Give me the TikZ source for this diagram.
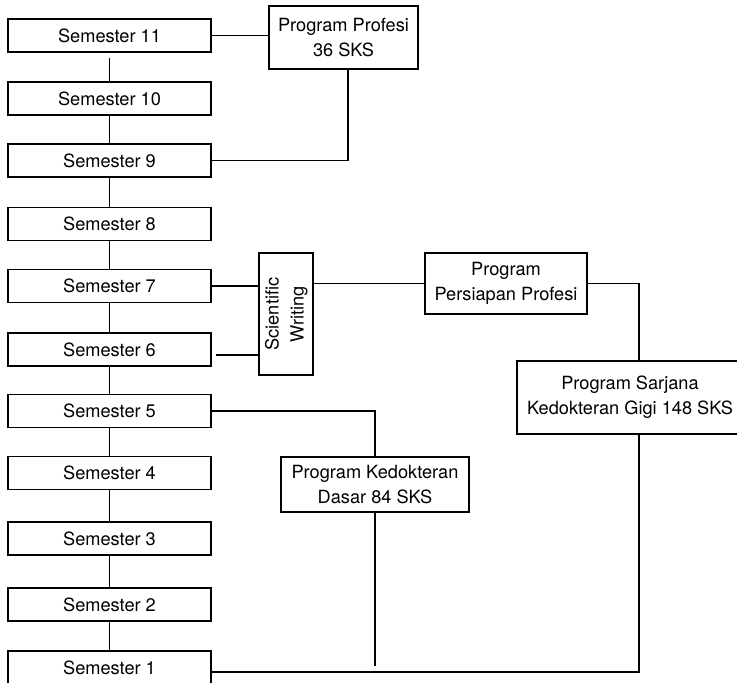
\documentclass[tikz,border=0pt]{standalone}
\usepackage{fontspec}
\usepackage{graphicx}
\setmainfont{TeX Gyre Heros}
\begin{document}
\begin{tikzpicture}[x=1pt,y=-1pt,
  box/.style={draw, line width=1.1pt, inner sep=0pt, align=center, font=\fontsize{18.2}{25}\selectfont},
  sem/.style={box, minimum width=203pt, minimum height=33pt},
  conn/.style={line width=1.1pt}]
\useasboundingbox (0,0) rectangle (737,683);
\foreach \n/\y in {11/35.5, 10/98.5, 9/160.5, 8/224, 7/286, 6/349.5, 5/411, 4/473, 3/538.5, 2/604.5, 1/667.5}
  \node[sem] (s\n) at (109.5,\y) {Semester \n};
% semester chain
\draw[conn, shorten <=5.5pt] (s11) -- (s10);
\draw[conn] (s10) -- (s9);
\draw[conn] (s9) -- (s8);
\draw[conn] (s8) -- (s7);
\draw[conn] (s7) -- (s6);
\draw[conn] (s6) -- (s5);
\draw[conn] (s5) -- (s4);
\draw[conn] (s4) -- (s3);
\draw[conn] (s3) -- (s2);
\draw[conn] (s2) -- (s1);
% program boxes
\node[box, minimum width=149pt, minimum height=63pt] (pp) at (343.5,37.5) {Program Profesi\\36 SKS};
\node[box, minimum width=54pt, minimum height=122pt] (sw) at (286,314)
  {\rotatebox{90}{\begin{tabular}{@{}c@{}}Scientific\\Writing\end{tabular}}};
\node[box, minimum width=162pt, minimum height=61pt] (ppp) at (506,283.5) {Program\\Persiapan Profesi};
\node[box, minimum width=226pt, minimum height=73pt] (sar) at (630,397.5) {Program Sarjana\\Kedokteran Gigi 148 SKS};
\node[box, minimum width=188pt, minimum height=55pt] (kd) at (375,484.5) {Program Kedokteran\\Dasar 84 SKS};
% connectors
\draw[conn] (s11.east) -- (s11.east -| pp.west);
\draw[conn] ([xshift=4.5pt]pp.south) |- (s9.east);
\draw[conn] (s7.east) -- (s7.east -| sw.west);
\coordinate (s6o) at ([shift={(4pt,-5.5pt)}]s6.east);
\draw[conn] (s6o) -- (s6o -| sw.west);
\draw[conn] (ppp.west -| sw.east) -- (ppp.west);
\draw[conn] (ppp.east) -| ([xshift=9pt]sar.north);
\draw[conn] (s5.east) -| (kd.north);
\coordinate (kdend) at (375,666);
\draw[conn] (kd.south) -- (kdend);
\coordinate (s1o) at ([yshift=-4.5pt]s1.east);
\draw[conn] (s1o) -| ([xshift=9pt]sar.south);
\end{tikzpicture}
\end{document}
